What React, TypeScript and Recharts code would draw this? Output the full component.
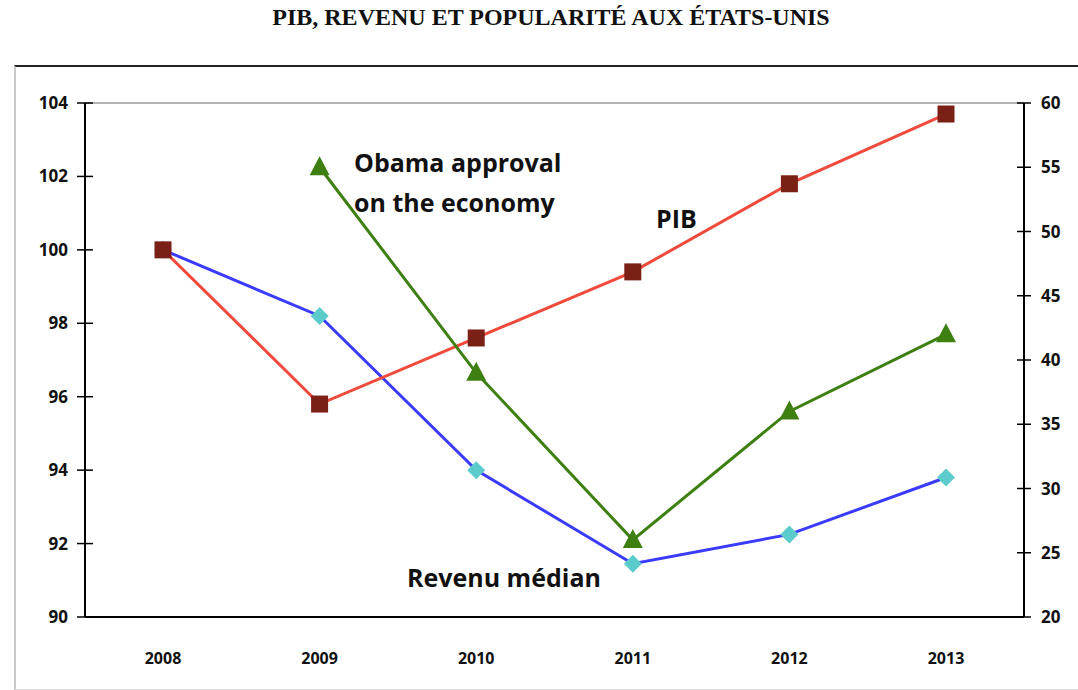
import { LineChart, Line, XAxis, YAxis, ReferenceLine } from "recharts";

const years = ["2008", "2009", "2010", "2011", "2012", "2013"];
const pib = [100, 95.8, 97.6, 99.4, 101.8, 103.7];
const revenu = [100, 98.2, 94.0, 91.45, 92.25, 93.8];
const approval = [null, 55, 39, 26, 36, 42];
const leftTicks = [90, 92, 94, 96, 98, 100, 102, 104];
const rightTicks = [20, 25, 30, 35, 40, 45, 50, 55, 60];

const data = years.map((year, i) => ({
  year,
  pib: pib[i],
  revenu: revenu[i],
  approval: approval[i],
}));

const W = 1078;
const H = 690;
const LEFT = 85;
const RIGHT = 1024;
const TOP = 103;
const BOTTOM = 617;
const FONT = "'Open Sans', 'Noto Sans', sans-serif";

const LeftTick = (props: any) => {
  const { y, payload } = props;
  return (
    <g>
      <line x1={LEFT - 8} x2={LEFT + 8} y1={y} y2={y} stroke="#000" strokeWidth={1.5} />
      <text x={68} y={y + 6} textAnchor="end" fontFamily={FONT} fontWeight={700} fontSize={17} fill="#111">
        {payload.value}
      </text>
    </g>
  );
};

const RightTick = (props: any) => {
  const { y, payload } = props;
  return (
    <g>
      <line x1={RIGHT - 7} x2={RIGHT + 7} y1={y} y2={y} stroke="#000" strokeWidth={1.5} />
      <text x={1041} y={y + 6} textAnchor="start" fontFamily={FONT} fontWeight={700} fontSize={17} fill="#111">
        {payload.value}
      </text>
    </g>
  );
};

const XTick = (props: any) => {
  const { x, payload } = props;
  return (
    <text x={x} y={BOTTOM + 47} textAnchor="middle" fontFamily={FONT} fontWeight={700} fontSize={16} fill="#111">
      {payload.value}
    </text>
  );
};

const Square = (props: any) => {
  const { cx, cy } = props;
  if (cx == null || cy == null) return null;
  return <rect x={cx - 8.5} y={cy - 8.5} width={17} height={17} fill="#7b2016" />;
};

const Diamond = (props: any) => {
  const { cx, cy } = props;
  if (cx == null || cy == null) return null;
  const r = 9;
  return <polygon points={`${cx},${cy - r} ${cx + r},${cy} ${cx},${cy + r} ${cx - r},${cy}`} fill="#5ccbcb" />;
};

const Triangle = (props: any) => {
  const { cx, cy, value } = props;
  if (cx == null || cy == null || value == null) return null;
  return <polygon points={`${cx},${cy - 11} ${cx + 10},${cy + 8} ${cx - 10},${cy + 8}`} fill="#3d7f10" />;
};

const labelStyle = {
  position: "absolute" as const,
  fontFamily: FONT,
  fontWeight: 700,
  fontSize: 25,
  color: "#111",
  lineHeight: "40px",
  whiteSpace: "nowrap" as const,
};

export default function App() {
  return (
    <div style={{ position: "absolute", left: 0, top: 0, width: W, height: H, background: "#fff", overflow: "hidden" }}>
      <div
        style={{
          position: "absolute",
          left: 0,
          top: 4,
          width: 1102,
          textAlign: "center",
          fontFamily: "'Liberation Serif', 'Times New Roman', serif",
          fontWeight: 700,
          fontSize: 24,
          color: "#111",
        }}
      >
        PIB, REVENU ET POPULARITÉ AUX ÉTATS-UNIS
      </div>
      <div
        style={{
          position: "absolute",
          left: 14,
          top: 65,
          width: W,
          height: 622,
          borderTop: "2px solid #222",
          borderLeft: "2px solid #c9c9c9",
          borderBottom: "2px solid #dedede",
        }}
      />
      <div style={{ position: "absolute", left: 0, top: 0 }}>
        <LineChart width={W} height={H} data={data} margin={{ top: TOP, bottom: 0, left: 0, right: 0 }}>
          <XAxis
            dataKey="year"
            padding={{ left: 78, right: 78 }}
            axisLine={{ stroke: "#000", strokeWidth: 2 }}
            tickLine={false}
            tick={<XTick />}
            height={H - BOTTOM}
          />
          <YAxis
            yAxisId="left"
            orientation="left"
            width={LEFT}
            domain={[90, 104]}
            ticks={leftTicks}
            interval={0}
            axisLine={{ stroke: "#000", strokeWidth: 2 }}
            tickLine={false}
            tick={<LeftTick />}
          />
          <YAxis
            yAxisId="right"
            orientation="right"
            width={W - RIGHT}
            domain={[20, 60]}
            ticks={rightTicks}
            interval={0}
            axisLine={{ stroke: "#000", strokeWidth: 2 }}
            tickLine={false}
            tick={<RightTick />}
          />
          <ReferenceLine yAxisId="left" y={104} stroke="#999" strokeWidth={1.5} />
          <Line
            yAxisId="left"
            dataKey="revenu"
            stroke="#3b3bff"
            strokeWidth={3}
            dot={<Diamond />}
            isAnimationActive={false}
            type="linear"
          />
          <Line
            yAxisId="left"
            dataKey="pib"
            stroke="#f04a3c"
            strokeWidth={3}
            dot={<Square />}
            isAnimationActive={false}
            type="linear"
          />
          <Line
            yAxisId="right"
            dataKey="approval"
            stroke="#3d7f10"
            strokeWidth={3}
            dot={<Triangle />}
            connectNulls={false}
            isAnimationActive={false}
            type="linear"
          />
        </LineChart>
      </div>
      <div style={{ ...labelStyle, left: 354, top: 142 }}>
        Obama approval
        <br />
        on the economy
      </div>
      <div style={{ ...labelStyle, left: 656, top: 198 }}>PIB</div>
      <div style={{ ...labelStyle, left: 407, top: 557 }}>Revenu médian</div>
    </div>
  );
}
